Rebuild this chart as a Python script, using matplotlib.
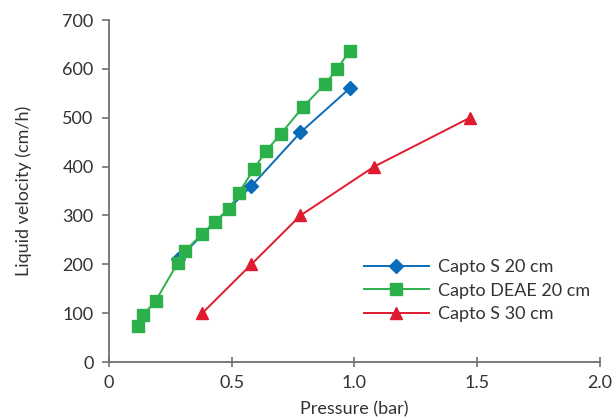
import matplotlib
matplotlib.use('Agg')
import matplotlib.pyplot as plt

plt.rcParams['font.family'] = ['Lato', 'DejaVu Sans']

# Capto S 20 cm
s20_pressure = [0.28, 0.58, 0.78, 0.98]
s20_velocity = [210, 360, 470, 560]

# Capto DEAE 20 cm
deae_pressure = [0.12, 0.14, 0.19, 0.28, 0.31, 0.38, 0.43, 0.49, 0.53, 0.59,
                 0.64, 0.70, 0.79, 0.88, 0.93, 0.98]
deae_velocity = [74, 97, 125, 203, 228, 262, 287, 313, 347, 395,
                 432, 467, 522, 569, 600, 637]

# Capto S 30 cm
s30_pressure = [0.38, 0.58, 0.78, 1.08, 1.47]
s30_velocity = [100, 200, 300, 400, 500]

txt = '#333333'
axis_col = '#707070'

fig = plt.figure(figsize=(6.14, 4.19), dpi=100)
ax = fig.add_axes([0.1775, 0.136, 0.7995, 0.816])

ax.plot(s20_pressure, s20_velocity, color='#0a6cb8', marker='D', markersize=7,
        linewidth=1.4, label='Capto S 20 cm')
ax.plot(deae_pressure, deae_velocity, color='#2bb04a', marker='s', markersize=8,
        linewidth=1.4, label='Capto DEAE 20 cm')
ax.plot(s30_pressure, s30_velocity, color='#e01a2f', marker='^', markersize=9,
        linewidth=1.4, label='Capto S 30 cm')

ax.set_xlim(0, 2.0)
ax.set_ylim(0, 700)
ax.set_xticks([0, 0.5, 1.0, 1.5, 2.0])
ax.set_xticklabels(['0', '0.5', '1.0', '1.5', '2.0'])
ax.set_yticks(range(0, 701, 100))

for side in ['top', 'right']:
    ax.spines[side].set_visible(False)
for side in ['left', 'bottom']:
    ax.spines[side].set_color(axis_col)
    ax.spines[side].set_linewidth(1.3)

ax.tick_params(axis='y', direction='out', length=5, width=1.2, color=axis_col,
               labelsize=13, labelcolor=txt, pad=6)
ax.tick_params(axis='x', direction='inout', length=7, width=1.2, color=axis_col,
               labelsize=13, labelcolor=txt, pad=6)

ax.set_xlabel('Pressure (bar)', fontsize=13, color=txt, labelpad=7)
ax.set_ylabel('Liquid velocity (cm/h)', fontsize=13, color=txt, labelpad=22)

leg = ax.legend(loc='lower right', bbox_to_anchor=(1.013, 0.07), frameon=False,
                fontsize=13, handlelength=3.6, labelspacing=0.4,
                handletextpad=0.5, labelcolor=txt)

fig.savefig('out.png', dpi=100)
